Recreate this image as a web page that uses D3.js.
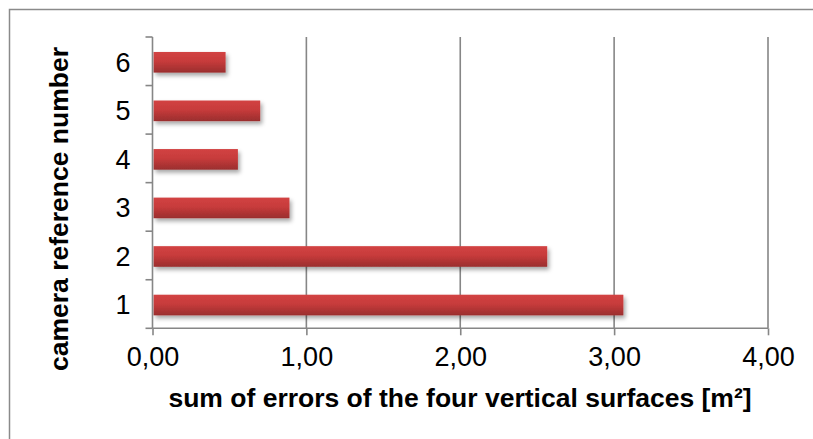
<!DOCTYPE html>
<html><head><meta charset="utf-8">
<script src="https://cdn.jsdelivr.net/npm/d3@7"></script>
<style>html,body{margin:0;padding:0;background:#fff;overflow:hidden;}svg{display:block;}</style>
</head><body>
<script>
const categories = ["1","2","3","4","5","6"];
const values = [3.06, 2.565, 0.89, 0.555, 0.70, 0.475];
const xTicks = [0, 1, 2, 3, 4];
const xTitle = "sum of errors of the four vertical surfaces [m²]";
const yTitle = "camera reference number";

(function(){
const W = 813, H = 439;
const FONT = "'Liberation Sans', Arial, sans-serif";
const svg = d3.select("body").append("svg").attr("width", W).attr("height", H);
const defs = svg.append("defs");
const grad = defs.append("linearGradient").attr("id","barGrad").attr("x1",0).attr("y1",0).attr("x2",0).attr("y2",1);
grad.append("stop").attr("offset","0%").attr("stop-color","#d24343");
grad.append("stop").attr("offset","45%").attr("stop-color","#c73b3b");
grad.append("stop").attr("offset","100%").attr("stop-color","#9a2e2e");
const f = defs.append("filter").attr("id","shadow").attr("x","-5%").attr("y","-30%").attr("width","115%").attr("height","180%");
f.append("feDropShadow").attr("dx",2).attr("dy",3).attr("stdDeviation",2.2).attr("flood-color","#000").attr("flood-opacity",0.35);

svg.append("rect").attr("x",9.5).attr("y",9.5).attr("width",1000).attr("height",1000)
  .attr("fill","#fff").attr("stroke","#8a8a8a").attr("stroke-width",1.5);

const pLeft = 152.5, pRight = 768, pTop = 37, pBottom = 328.3;
const x = d3.scaleLinear().domain([0,4]).range([pLeft,pRight]);
const y = d3.scaleBand().domain(categories.slice().reverse()).range([pTop,pBottom]).paddingInner(0.575).paddingOuter(0.2875);
const yb = d3.scaleBand().domain(categories.slice().reverse()).range([pTop,pBottom]);

const gray = "#868686";
svg.append("g").selectAll("line").data(xTicks.filter(d=>d>0)).join("line")
  .attr("x1",d=>x(d)).attr("x2",d=>x(d)).attr("y1",pTop).attr("y2",pBottom)
  .attr("stroke",gray).attr("stroke-width",1.6);

svg.append("g").selectAll("rect").data(categories).join("rect")
  .attr("x",x(0)+1).attr("y",d=>y(d)+1)
  .attr("width",(d,i)=>x(values[i])-x(0)-1).attr("height",y.bandwidth())
  .attr("fill","url(#barGrad)").attr("filter","url(#shadow)");

const xAxis = d3.axisBottom(x).tickValues(xTicks).tickSize(7).tickPadding(12)
  .tickFormat(d=>d3.format(".2f")(d).replace(".",","));
const gx = svg.append("g").attr("transform",`translate(0,${pBottom})`).call(xAxis);
gx.select(".domain").attr("stroke",gray).attr("stroke-width",1.6).attr("d",`M${pLeft},0H${pRight}`);
gx.selectAll(".tick line").attr("stroke",gray).attr("stroke-width",1.6);
gx.selectAll(".tick text").attr("font-family",FONT).attr("font-size",27).attr("fill","#000");

const yAxis = d3.axisLeft(yb).tickSize(0).tickPadding(22);
const gy = svg.append("g").attr("transform",`translate(${pLeft},0)`).call(yAxis);
gy.select(".domain").attr("stroke",gray).attr("stroke-width",1.6).attr("d",`M0,${pTop}V${pBottom}`);
gy.selectAll(".tick text").attr("font-family",FONT).attr("font-size",27).attr("fill","#000").attr("dy","0.38em");
const bounds = d3.range(categories.length+1).map(i=>pTop + i*yb.step());
gy.append("g").selectAll("line").data(bounds).join("line")
  .attr("x1",-7).attr("x2",0).attr("y1",d=>d).attr("y2",d=>d)
  .attr("stroke",gray).attr("stroke-width",1.6);

svg.append("text").attr("x",(168+752)/2).attr("y",406.5).attr("text-anchor","middle")
  .attr("font-family",FONT).attr("font-weight","bold").attr("font-size",26.5)
  .attr("fill","#000").text(xTitle);
svg.append("text").attr("transform",`translate(68,${(47+371)/2}) rotate(-90)`).attr("text-anchor","middle")
  .attr("font-family",FONT).attr("font-weight","bold").attr("font-size",26.5)
  .attr("fill","#000").text(yTitle);
})();
</script>
</body></html>
